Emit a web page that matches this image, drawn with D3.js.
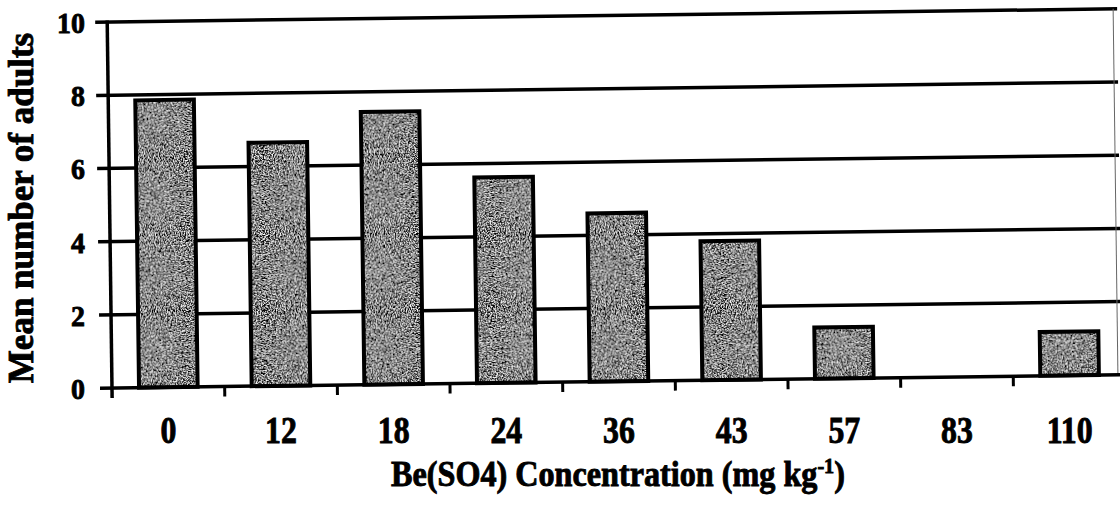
<!DOCTYPE html>
<html>
<head>
<meta charset="utf-8">
<script src="https://cdn.jsdelivr.net/npm/d3@7.9.0/dist/d3.min.js"></script>
<style>
  html, body { margin: 0; padding: 0; background: #fff; }
  text { font-family: "Liberation Serif", "Times New Roman", serif; font-weight: bold; fill: #000; stroke: #000; stroke-width: 0.9px; }
</style>
</head>
<body>
<div id="chart"></div>
<script>
const concentrations = ['0', '12', '18', '24', '36', '43', '57', '83', '110'];
const meanAdults = [7.85, 6.65, 7.45, 5.62, 4.6, 3.8, 1.4, 0, 1.2];
const yTicks = [0, 2, 4, 6, 8, 10];

const width = 1120;
const height = 513;
const plot = { left: 112, right: 1126, top: 22, bottom: 388, border: 1118 };

const svg = d3.select('#chart')
  .append('svg')
  .attr('width', width)
  .attr('height', height);

// speckled grey fill like the scanned bars
const defs = svg.append('defs');
const grain = defs.append('filter')
  .attr('id', 'grain')
  .attr('x', 0).attr('y', 0).attr('width', 1).attr('height', 1);
grain.append('feTurbulence')
  .attr('type', 'fractalNoise')
  .attr('baseFrequency', 0.8)
  .attr('numOctaves', 2)
  .attr('seed', 3)
  .attr('result', 'noise');
grain.append('feColorMatrix')
  .attr('in', 'noise')
  .attr('type', 'matrix')
  .attr('values', '3.2 0 0 0 -1.4  3.2 0 0 0 -1.4  3.2 0 0 0 -1.4  0 0 0 0 1')
  .attr('result', 'grey');
grain.append('feComposite')
  .attr('in', 'grey')
  .attr('in2', 'SourceGraphic')
  .attr('operator', 'in');

const x = d3.scaleBand()
  .domain(concentrations)
  .range([plot.left, plot.right]);

const y = d3.scaleLinear()
  .domain([0, 10])
  .range([plot.bottom, plot.top]);

// the scan is slightly tilted
const g = svg.append('g')
  .attr('transform', `rotate(-0.75, ${plot.left}, ${plot.bottom})`);

// gridlines
g.append('g')
  .selectAll('line')
  .data(yTicks.filter(d => d > 0))
  .join('line')
  .attr('x1', plot.left - 12)
  .attr('x2', plot.border + 4)
  .attr('y1', d => y(d))
  .attr('y2', d => y(d))
  .attr('stroke', '#000')
  .attr('stroke-width', 3.5);

// right border
g.append('line')
  .attr('x1', plot.border).attr('x2', plot.border)
  .attr('y1', y(10)).attr('y2', y(0))
  .attr('stroke', '#666')
  .attr('stroke-width', 1);

// bars
const bw = x.bandwidth();
const bars = g.append('g')
  .selectAll('g')
  .data(concentrations.map((c, i) => ({ c, v: meanAdults[i] })).filter(d => d.v > 0))
  .join('g');

bars.append('rect')
  .attr('x', d => x(d.c) + bw * 0.24)
  .attr('y', d => y(d.v))
  .attr('width', bw * 0.52)
  .attr('height', d => y(0) - y(d.v))
  .attr('fill', '#6f6f6f')
  .attr('filter', 'url(#grain)');

bars.append('rect')
  .attr('x', d => x(d.c) + bw * 0.24)
  .attr('y', d => y(d.v))
  .attr('width', bw * 0.52)
  .attr('height', d => y(0) - y(d.v))
  .attr('fill', 'none')
  .attr('stroke', '#000')
  .attr('stroke-width', 4);

// baseline and y axis
g.append('line')
  .attr('x1', plot.left - 12).attr('x2', plot.border + 4)
  .attr('y1', y(0)).attr('y2', y(0))
  .attr('stroke', '#000').attr('stroke-width', 3.5);

g.append('line')
  .attr('x1', plot.left).attr('x2', plot.left)
  .attr('y1', y(10) - 1.5).attr('y2', y(0) + 10)
  .attr('stroke', '#000').attr('stroke-width', 3.5);

// x ticks at band boundaries
g.append('g')
  .selectAll('line')
  .data(concentrations.slice(1))
  .join('line')
  .attr('x1', d => x(d))
  .attr('x2', d => x(d))
  .attr('y1', y(0))
  .attr('y2', y(0) + 10)
  .attr('stroke', '#000')
  .attr('stroke-width', 3);

// y tick labels
svg.append('g')
  .selectAll('text')
  .data(yTicks)
  .join('text')
  .attr('transform', d => `translate(85, ${y(d) + 11}) scale(0.93, 1)`)
  .attr('text-anchor', 'end')
  .style('font-size', '30px')
  .text(d => d);

// x tick labels (slightly condensed like the original)
svg.append('g')
  .selectAll('text')
  .data(concentrations)
  .join('text')
  .attr('transform', d => `translate(${x(d) + bw / 2}, 443) scale(0.86, 1)`)
  .attr('text-anchor', 'middle')
  .style('font-size', '37px')
  .text(d => d);

// axis titles
svg.append('text')
  .attr('transform', 'translate(33, 208) rotate(-90)')
  .attr('text-anchor', 'middle')
  .style('font-size', '35px')
  .text('Mean number of adults');

const xt = svg.append('text')
  .attr('transform', 'translate(618, 486) scale(0.92, 1)')
  .attr('text-anchor', 'middle')
  .style('font-size', '35px');
xt.append('tspan').text('Be(SO4) Concentration (mg kg');
xt.append('tspan').attr('dy', -13).style('font-size', '22px').text('-1');
xt.append('tspan').attr('dy', 13).text(')');
</script>
</body>
</html>
